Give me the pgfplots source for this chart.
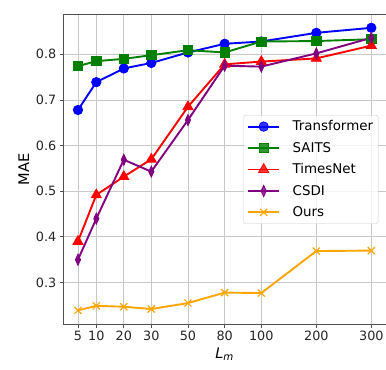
\documentclass[border=0pt]{standalone}
\usepackage{fontspec}
\setmainfont{DejaVu Sans}
\usepackage{pgfplots}
\pgfplotsset{compat=1.18}
\definecolor{cblue}{RGB}{0,0,255}
\definecolor{cgreen}{RGB}{0,128,0}
\definecolor{cred}{RGB}{255,0,0}
\definecolor{cpurple}{RGB}{128,0,128}
\definecolor{corange}{RGB}{255,165,0}
\definecolor{spine}{RGB}{80,80,80}
\definecolor{gridc}{RGB}{200,200,200}
\begin{document}
\begin{tikzpicture}
\begin{axis}[
  scale only axis,
  width=322.7bp, height=310bp,
  xmin=-1.6, xmax=33.6, ymin=0.2085, ymax=0.8876,
  xtick={0,2,5,8,12,16,20,26,32},
  xticklabels={5,10,20,30,50,80,100,200,300},
  ytick={0.3,0.4,0.5,0.6,0.7,0.8},
  yticklabel style={/pgf/number format/.cd, fixed, fixed zerofill, precision=1},
  /pgf/number format/assume math mode=true,
  ticklabel style={font=\fontsize{12.8bp}{15bp}\selectfont, text=black!85},
  xtick pos=bottom, ytick pos=left,
  tick align=outside, major tick length=3.5bp,
  tick style={spine, line width=0.8bp},
  axis line style={spine, line width=1bp},
  grid=major, grid style={gridc, line width=0.8bp},
  xlabel={\textit{L}\textsubscript{\textit{m}}},
  ylabel={MAE},
  label style={font=\fontsize{14.6bp}{17bp}\selectfont},
  legend style={at={(rel axis cs:0.976,0.675)}, anchor=north east,
    draw=black!20, rounded corners=2bp, fill=white, fill opacity=0.8, text opacity=1,
    font=\fontsize{13.4bp}{16bp}\selectfont, row sep=6.9bp,
    inner xsep=3.5bp, inner ysep=4bp,
    nodes={inner sep=1.5bp},
    /tikz/every odd column/.append style={column sep=11bp}},
  legend cell align=left,
  legend image code/.code={\draw[mark repeat=2,mark phase=2] plot coordinates {(0bp,0bp)(15.5bp,0bp)(31bp,0bp)};},
  every axis plot/.append style={line width=1.9bp},
]
\addplot[cblue, mark=*, mark size=4.7bp, mark options={line width=0.8bp}] coordinates {
(0,0.678)(2,0.739)(5,0.769)(8,0.781)(12,0.804)(16,0.823)(20,0.828)(26,0.847)(32,0.858)};
\addlegendentry{Transformer}
\addplot[cgreen, mark=square*, mark size=4.6bp, mark options={line width=0.8bp}] coordinates {
(0,0.774)(2,0.785)(5,0.790)(8,0.798)(12,0.809)(16,0.804)(20,0.828)(26,0.829)(32,0.833)};
\addlegendentry{SAITS}
\addplot[cred, mark=triangle*, mark size=5.8bp, mark options={line width=0.8bp}] coordinates {
(0,0.390)(2,0.492)(5,0.532)(8,0.570)(12,0.685)(16,0.778)(20,0.784)(26,0.791)(32,0.819)};
\addlegendentry{TimesNet}
\addplot[cpurple, mark=diamond*, mark size=5.6bp, mark options={xscale=0.62, line width=0.8bp}] coordinates {
(0,0.350)(2,0.440)(5,0.569)(8,0.543)(12,0.656)(16,0.775)(20,0.773)(26,0.802)(32,0.836)};
\addlegendentry{CSDI}
\addplot[corange, mark=x, mark size=5bp, mark options={line width=1.2bp}] coordinates {
(0,0.239)(2,0.249)(5,0.247)(8,0.242)(12,0.255)(16,0.278)(20,0.277)(26,0.369)(32,0.370)};
\addlegendentry{Ours}
\end{axis}
\pgfresetboundingbox
\path ([xshift=-63.3bp,yshift=-44.7bp]current axis.south west) rectangle ([yshift=14.3bp]current axis.north east);
\end{tikzpicture}
\end{document}
